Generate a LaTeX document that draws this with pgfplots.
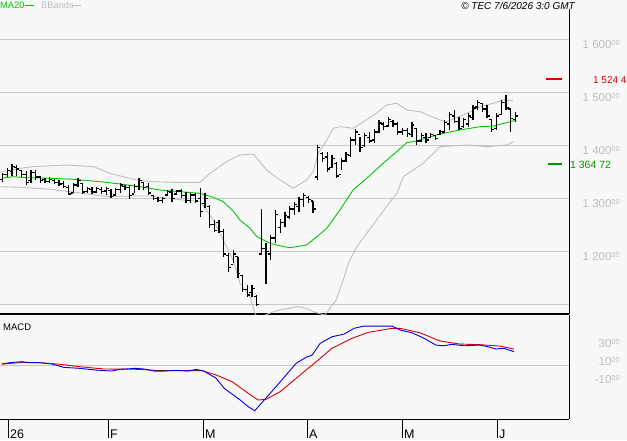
\documentclass[border=0pt]{standalone}
\usepackage{fontspec}
\setmainfont{Liberation Sans}
\usepackage{pgfplots}
\pgfplotsset{compat=1.18}
\usepackage{pgfplotstable}

\definecolor{bg}{RGB}{248,248,248}
\definecolor{gridc}{RGB}{200,200,200}
\definecolor{bandc}{RGB}{192,192,192}
\definecolor{lblc}{RGB}{190,190,190}
\definecolor{mag}{RGB}{0,200,0}
\definecolor{lvlred}{RGB}{220,0,0}
\definecolor{lvlgreen}{RGB}{0,150,0}
\definecolor{macdblue}{RGB}{0,0,230}
\definecolor{macdred}{RGB}{220,0,0}

\pgfdeclareplotmark{otick}{\pgfpathmoveto{\pgfqpoint{-2.6pt}{0pt}}\pgfpathlineto{\pgfqpoint{0pt}{0pt}}\pgfusepathqstroke}
\pgfdeclareplotmark{ctick}{\pgfpathmoveto{\pgfqpoint{0pt}{0pt}}\pgfpathlineto{\pgfqpoint{2.6pt}{0pt}}\pgfusepathqstroke}

\newcommand{\pl}[2]{#1\raisebox{3.2pt}{\fontsize{7.5}{7.5}\selectfont #2}}

% daily bars: index, high, low, open, close
\pgfplotstableread{
i h l o c
0 1348 1331 1335 1345
1 1357 1340 1345 1352
2 1365 1342 1350 1360
3 1363 1342 1358 1355
4 1353 1340 1352 1345
5 1351 1325 1345 1330
6 1353 1329 1333 1348
7 1353 1334 1348 1340
8 1342 1329 1340 1333
9 1338 1329 1335 1331
10 1340 1329 1332 1336
11 1336 1327 1334 1330
12 1334 1323 1330 1327
13 1333 1319 1328 1322
14 1325 1306 1320 1308
15 1329 1310 1310 1325
16 1338 1321 1325 1333
17 1329 1308 1328 1312
18 1321 1310 1313 1318
19 1321 1308 1316 1312
20 1321 1310 1312 1318
21 1321 1308 1316 1313
22 1321 1306 1314 1318
23 1317 1301 1315 1304
24 1319 1304 1306 1316
25 1329 1310 1316 1325
26 1325 1316 1322 1320
27 1325 1299 1320 1305
28 1327 1310 1308 1322
29 1338 1316 1322 1334
30 1329 1316 1330 1320
31 1329 1306 1322 1310
32 1306 1297 1305 1299
33 1302 1293 1299 1296
34 1302 1291 1296 1299
35 1316 1304 1306 1313
36 1318 1293 1312 1300
37 1316 1306 1308 1314
38 1318 1301 1314 1305
39 1312 1291 1305 1296
40 1310 1291 1296 1306
41 1310 1291 1306 1295
42 1319 1265 1300 1275
43 1310 1282 1290 1300
44 1287 1244 1285 1250
45 1259 1236 1250 1240
46 1259 1235 1255 1238
47 1242 1189 1238 1195
48 1197 1161 1192 1170
49 1203 1178 1175 1195
50 1190 1150 1190 1158
51 1156 1124 1155 1128
52 1137 1114 1128 1118
53 1137 1114 1122 1130
54 1118 1097 1115 1100
55 1280 1193 1195 1205
56 1216 1139 1205 1200
57 1231 1184 1195 1225
58 1278 1216 1225 1270
59 1261 1235 1245 1255
60 1274 1246 1255 1268
61 1286 1261 1265 1280
62 1293 1269 1280 1288
63 1302 1274 1285 1298
64 1310 1284 1298 1305
65 1304 1291 1302 1298
66 1295 1272 1295 1280
67 1400 1335 1340 1395
68 1387 1368 1385 1375
69 1387 1350 1378 1355
70 1382 1357 1358 1375
71 1368 1338 1365 1342
72 1376 1353 1345 1370
73 1387 1368 1370 1382
74 1415 1378 1380 1410
75 1430 1400 1410 1425
76 1415 1387 1420 1395
77 1423 1397 1400 1418
78 1425 1404 1415 1408
79 1430 1404 1410 1425
80 1447 1423 1425 1442
81 1444 1429 1440 1435
82 1453 1434 1436 1448
83 1447 1434 1445 1440
84 1444 1419 1440 1425
85 1432 1419 1425 1428
86 1432 1415 1428 1422
87 1444 1415 1420 1438
88 1432 1400 1432 1408
89 1423 1406 1408 1418
90 1423 1404 1415 1410
91 1423 1413 1414 1420
92 1419 1410 1418 1413
93 1429 1419 1420 1426
94 1447 1423 1425 1443
95 1462 1429 1440 1458
96 1466 1442 1455 1445
97 1453 1429 1445 1432
98 1451 1432 1435 1448
99 1461 1434 1440 1455
100 1476 1447 1452 1470
101 1485 1466 1472 1480
102 1479 1462 1478 1468
103 1476 1451 1468 1455
104 1449 1425 1448 1430
105 1461 1429 1432 1455
106 1485 1457 1458 1480
107 1494 1466 1480 1470
108 1470 1425 1468 1450
109 1462 1444 1448 1455
}\bars

\pgfplotstableread{
x y
0 1338
2.25 1340.7
5.1 1338.8
10.06 1337.7
15.0 1335.8
20.7 1331.3
24.9 1327
29.2 1321.9
33.4 1315.6
37.7 1312.4
41.95 1309.4
44.8 1301.9
46.9 1293.6
49.0 1276
50.45 1259
52.6 1243.5
54.0 1228
56.8 1215.3
59.7 1209
61.1 1207
64.6 1212
66.8 1227.7
68.9 1243.5
71.7 1278
74.5 1315.6
77.4 1337.7
80.9 1366
83.8 1388
85.9 1404.7
88.0 1408
93.0 1421
97.2 1428.6
101.5 1434.8
104.3 1436
108.6 1446
109.2 1445.5
}\ma

\pgfplotstableread{
x y
-0.5 1349
3.68 1356.5
6.5 1359.5
13.6 1362.7
19.3 1359.5
22.8 1347
27.8 1335.8
31.3 1331.3
36.3 1330.1
41.95 1330.1
44.1 1347
47.6 1369
50.45 1381.5
53.3 1383.4
56.1 1353.3
59.0 1334.5
61.8 1318.8
64.6 1334.5
66.0 1350.1
67.1 1384.7
68.9 1409.8
70.3 1431.8
71.7 1434.8
73.1 1433.7
74.5 1431.8
76.7 1444.2
79.5 1460
81.6 1475.7
83.8 1478.9
85.9 1466.3
88.7 1463.1
93.0 1447.4
94.4 1444.2
98.7 1460
101.5 1472.5
104.3 1478.9
106.4 1485.1
108.6 1483.8
}\ub

\pgfplotstableread{
x y
-0.5 1321.8
3.68 1320.7
10.06 1317
17.1 1309.4
22.1 1303
27.8 1304.3
31.3 1304.3
38.4 1296.8
41.95 1293.6
44.8 1259.1
46.9 1221.5
49.0 1183.8
50.45 1139.9
52.6 1114.7
53.6 1083.4
54.6 1072
55.8 1080
56.8 1084
59.0 1090
61.1 1093
62.5 1096
64.5 1093
66.0 1086.5
68.5 1080
70.9 1108.5
72.4 1146.1
73.5 1177.6
75.3 1208.9
77.4 1234.1
79.5 1259.1
81.6 1284.2
83.8 1309.4
85.2 1340.7
87.3 1353.3
89.4 1365.9
91.6 1384.7
93.0 1397.2
98.7 1400.4
102.9 1397.2
107.2 1400.4
108.6 1406.6
}\lb

\pgfplotstableread{
x y
-0.15 1.1
1.55 2.6
4.1 3.7
5.4 2.6
7.9 2.6
10.5 1.1
13.0 -2.6
16.4 -3.7
19.8 -5.6
23.2 -6.7
24.9 -4.8
28.3 -3.7
30.0 -4.4
32.2 -6.7
34.3 -6.7
36.8 -5.9
39.4 -6.7
41.1 -4.8
42.8 -6.7
45.4 -14.8
47.1 -25.9
50.5 -38.9
52.2 -46.3
53.6 -50.8
55.6 -38.9
58.1 -24.1
62.4 1.9
64.5 8.6
65.8 11.1
67.5 24.1
70.0 31.4
72.6 34.4
74.7 40.8
76.8 43.3
82.8 43.3
84.5 38.9
87.0 35.9
89.6 29.7
92.1 22.2
93.8 21.4
95.5 23
98.1 21.4
101.5 22.2
103.2 20.3
104.9 17.8
106.6 18.6
108.7 14.8
}\macd

\pgfplotstableread{
x y
-0.15 1.1
4.5 3.0
7.9 2.6
12.2 0.8
16.4 -1.9
21.5 -4.4
29.2 -4.8
33.4 -6.3
42.4 -6.3
45.4 -11.1
48.8 -18.6
52.2 -31.4
54.3 -38.9
56.0 -38.1
58.96 -29.7
62.4 -14.8
67.5 7.4
70.0 18.6
74.3 29.7
77.7 36.3
82.8 40.8
84.5 40.8
88.7 35.9
93.0 26.7
97.2 23.3
101.5 22.6
105.7 21.1
108.7 17.8
}\signal

\begin{document}
\begin{tikzpicture}
\path[use as bounding box, fill=bg] (0pt,0pt) rectangle (627pt,-440pt);

% legend texts
\node[anchor=base west, inner sep=0pt, text=mag, font=\fontsize{9.3}{9.3}\selectfont] at (0pt,-8.6pt) {MA20};
\draw[mag, line width=1pt] (25pt,-5pt) -- (34pt,-5pt);
\node[anchor=base west, inner sep=0pt, text=lblc, font=\fontsize{9.3}{9.3}\selectfont] at (41pt,-8.6pt) {BBands};
\draw[lblc, line width=1pt] (72pt,-5pt) -- (81pt,-5pt);
\node[anchor=base east, inner sep=0pt, font=\fontsize{10}{10}\selectfont\itshape] at (575pt,-9pt) {© TEC 7/6/2026 3:0 GMT};

\begin{axis}[
  at={(0pt,0pt)}, anchor=north west, scale only axis,
  width=569pt, height=314pt,
  xmin=-0.574, xmax=120.41, ymin=1082.1, ymax=1673.4,
  axis x line*=bottom, axis y line*=right,
  x axis line style={line width=2pt, black},
  y axis line style={draw=none},
  xtick=\empty,
  ytick={1100,1200,1300,1400,1500,1600},
  yticklabels={{},{\pl{1 200}{00}},{\pl{1 300}{00}},{\pl{1 400}{00}},{\pl{1 500}{00}},{\pl{1 600}{00}}},
  ymajorgrids, grid style={gridc, line width=0.8pt},
  major tick length=0pt,
  yticklabel style={anchor=base east, inner sep=0pt, xshift=51pt, yshift=-9.3pt, text=lblc, font=\fontsize{11.5}{11.5}\selectfont},
  clip mode=individual,
]
\addplot[bandc, line width=0.9pt] table {\ub};
\addplot[bandc, line width=0.9pt] table {\lb};
\addplot[mag, line width=0.9pt] table {\ma};
\addplot[draw=none, error bars/.cd, y dir=minus, y explicit, error mark=none,
  error bar style={black, line width=1.3pt}]
  table[x=i, y=h, y error minus expr=\thisrow{h}-\thisrow{l}] {\bars};
\addplot[only marks, mark=otick, mark options={black, line width=1.3pt}] table[x=i, y=o] {\bars};
\addplot[only marks, mark=ctick, mark options={black, line width=1.3pt}] table[x=i, y=c] {\bars};
\draw[black, line width=1pt] (rel axis cs:1,0) -- (rel axis cs:1,0.9713);
\draw[lvlred, line width=2pt] (axis cs:115.5,1524.4) -- (axis cs:118.9,1524.4);
\node[anchor=base west, inner sep=0pt, text=lvlred, yshift=-4.2pt, font=\fontsize{10}{10}\selectfont] at (axis cs:125.5,1524.4) {1 524 4};
\draw[lvlgreen, line width=2pt] (axis cs:115.9,1364.72) -- (axis cs:118.9,1364.72);
\node[anchor=base west, inner sep=0pt, text=lvlgreen, yshift=-4.4pt, font=\fontsize{10.5}{10.5}\selectfont] at (axis cs:120.6,1364.72) {1 364 72};
\end{axis}

\begin{axis}[
  at={(0pt,-315pt)}, anchor=north west, scale only axis,
  width=569pt, height=104pt,
  xmin=-0.574, xmax=120.41, ymin=-60, ymax=55.6,
  axis x line*=bottom, axis y line*=right,
  axis line style={black, line width=0.9pt},
  xtick=\empty,
  ytick={-10,10,30},
  yticklabels={{\pl{-10}{00}},{\pl{10}{00}},{\pl{30}{00}}},
  major tick length=0pt,
  yticklabel style={anchor=base east, inner sep=0pt, xshift=51pt, yshift=-9.3pt, text=lblc, font=\fontsize{11.5}{11.5}\selectfont},
  extra y ticks={0}, extra y tick labels={},
  extra y tick style={grid=major, grid style={gridc, line width=0.8pt}},
  extra x ticks={1.127,22.39,42.59,64.70,84.90,105.10},
  extra x tick labels={26,F,M,A,M,J},
  extra x tick style={major tick length=19pt, tick align=outside, tick style={black, line width=0.9pt},
    xticklabel style={anchor=base west, inner sep=0pt, xshift=2pt, font=\fontsize{12.5}{12.5}\selectfont}},
  clip mode=individual,
]
\addplot[macdred, line width=0.9pt] table {\signal};
\addplot[macdblue, line width=0.9pt] table {\macd};
\node[anchor=base west, inner sep=0pt, font=\fontsize{9.5}{9.5}\selectfont] at (rel axis cs:0,1) [xshift=3pt, yshift=-15.7pt] {MACD};
\end{axis}
\end{tikzpicture}
\end{document}
